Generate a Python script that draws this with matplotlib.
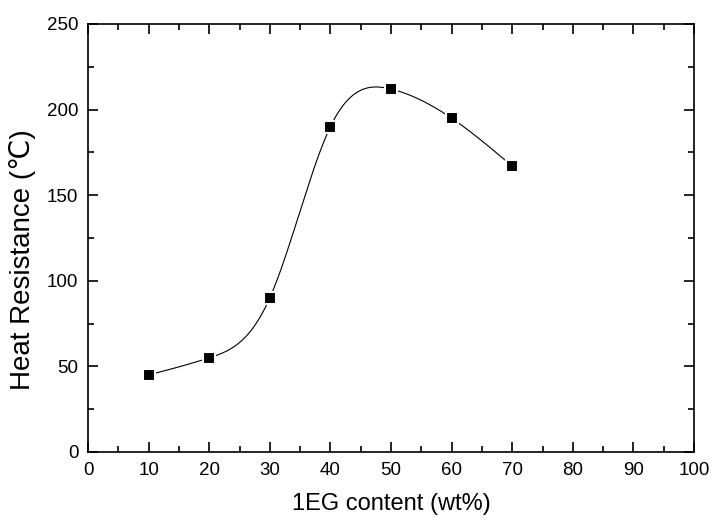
import numpy as np
import matplotlib.pyplot as plt
from matplotlib.ticker import MultipleLocator

plt.rcParams['font.family'] = ['Liberation Sans', 'DejaVu Sans']

# data
eg_content = [10, 20, 30, 40, 50, 60, 70]
heat_resistance = [45, 55, 90, 190, 212, 195, 167]


def natural_spline(x, y, n=300):
    # plain natural cubic spline, like Origin's spline connector
    x = np.asarray(x, float)
    y = np.asarray(y, float)
    k = len(x)
    h = np.diff(x)
    A = np.zeros((k, k))
    b = np.zeros(k)
    A[0, 0] = A[-1, -1] = 1
    for i in range(1, k - 1):
        A[i, i - 1] = h[i - 1]
        A[i, i] = 2 * (h[i - 1] + h[i])
        A[i, i + 1] = h[i]
        b[i] = 6 * ((y[i + 1] - y[i]) / h[i] - (y[i] - y[i - 1]) / h[i - 1])
    m = np.linalg.solve(A, b)
    xs = np.linspace(x[0], x[-1], n)
    idx = np.clip(np.searchsorted(x, xs) - 1, 0, k - 2)
    t = xs - x[idx]
    hi = h[idx]
    a = (m[idx + 1] - m[idx]) / (6 * hi)
    c = m[idx] / 2
    d = (y[idx + 1] - y[idx]) / hi - hi * (2 * m[idx] + m[idx + 1]) / 6
    ys = y[idx] + d * t + c * t ** 2 + a * t ** 3
    return xs, ys


fig = plt.figure(figsize=(7.12, 5.18), dpi=100)
ax = fig.add_axes([88 / 712, 1 - 452 / 518, (694 - 88) / 712, (452 - 24) / 518])

xs, ys = natural_spline(eg_content, heat_resistance)
ax.plot(xs, ys, color='black', lw=0.8, zorder=2)
ax.plot(eg_content, heat_resistance, ls='none', marker='s', ms=9,
        mfc='black', mec='white', mew=1.5, zorder=3)

ax.set_xlim(0, 100)
ax.set_ylim(0, 250)
ax.xaxis.set_major_locator(MultipleLocator(10))
ax.xaxis.set_minor_locator(MultipleLocator(5))
ax.yaxis.set_major_locator(MultipleLocator(50))
ax.yaxis.set_minor_locator(MultipleLocator(25))
ax.tick_params(which='both', direction='in', top=True, right=True,
               labelsize=13.5, width=1.2, pad=7)
ax.tick_params(which='major', length=7)
ax.tick_params(which='minor', length=4)
for s in ax.spines.values():
    s.set_linewidth(1.2)

ax.set_xlabel('1EG content (wt%)', fontsize=17, labelpad=10)
ax.set_ylabel('Heat Resistance (\u2103)', fontsize=20)
ax.yaxis.set_label_coords(-0.085, 0.45)

fig.savefig('out.png', dpi=100)
